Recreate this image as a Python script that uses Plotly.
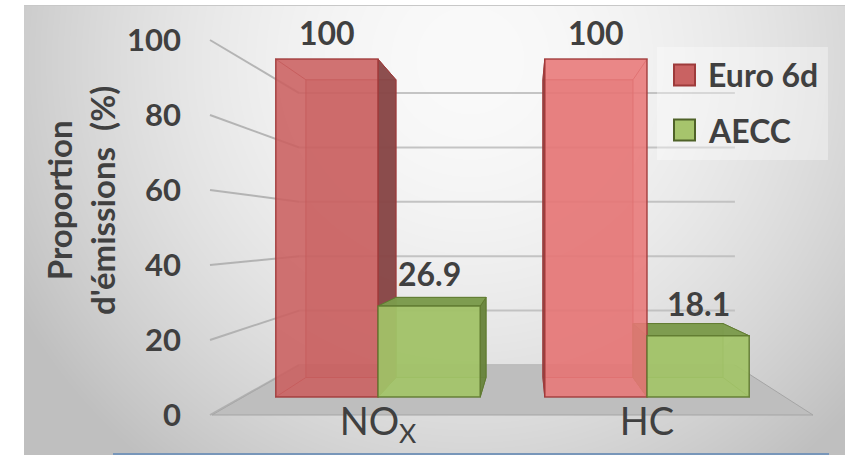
import base64
import struct
import zlib

import numpy as np
import plotly.graph_objects as go

# ---------------------------------------------------------------- data
categories = ["NO<sub>X</sub>", "HC"]
series_names = ["Euro 6d", "AECC"]
euro6d = [100, 100]
aecc = [26.9, 18.1]
y_ticks = [0, 20, 40, 60, 80, 100]
y_title = "Proportion<br>d'émissions  (%)"

# ---------------------------------------------------------------- geometry
W, H = 845, 455
FONT = "Lato"
TEXT = "#404040"

# perspective: vanishing point and depth factors of the planes
VP_X, VP_Y = 529.0, 233.0
REF_Y0, REF_K = 415.0, 3.75          # reference (tick) plane: px of value 0, px per unit
S_FRONT = 0.901                      # bar front faces
S_BACK = S_FRONT * 0.881             # bar back faces
S_WALL = 0.725                       # back wall / floor back edge

# category axis: centre pixel of first category and pixels per category
CAT0_PX, CAT_PX = 378.0, 269.0
BAR_W = 0.38
x_range = [-CAT0_PX / CAT_PX, (W - CAT0_PX) / CAT_PX]


def ref_y(v):
    return REF_Y0 - REF_K * v


def depth(x, y, s):
    return VP_X + (x - VP_X) * s, VP_Y + (y - VP_Y) * s


def front_y(v):
    return depth(0, ref_y(v), S_FRONT)[1]


def cat_px(c):
    return (c - x_range[0]) / (x_range[1] - x_range[0]) * W


def px(x, y):
    return x / W, 1 - y / H


def path(points):
    pts = [px(x, y) for x, y in points]
    return "M " + " L ".join(f"{a:.5f},{b:.5f}" for a, b in pts) + " Z"


# bar axis range so that values land on the front plane
b0 = front_y(0)
k_front = REF_K * S_FRONT
bar_range = [-(H - b0) / k_front, b0 / k_front]
tick_range = [-(H - REF_Y0) / REF_K, REF_Y0 / REF_K]

# ---------------------------------------------------------------- background
IMG_X0, IMG_Y0 = 24, 5
iw, ih = W - IMG_X0, H - IMG_Y0
gx, gy = np.meshgrid(np.arange(iw) + IMG_X0, np.arange(ih) + IMG_Y0)
d = np.sqrt(((gx - 470) / 430.0) ** 2 + ((gy - 60) / 430.0) ** 2)
shade = 250 - 42 * np.minimum(d, 1.2) ** 1.8
img = np.clip(shade, 0, 255).astype(np.uint8)
img[0, :] = 200


def png_bytes(a):
    h, w = a.shape
    raw = b"".join(b"\x00" + a[r].tobytes() for r in range(h))

    def chunk(tag, data):
        c = struct.pack(">I", len(data)) + tag + data
        return c + struct.pack(">I", zlib.crc32(tag + data) & 0xFFFFFFFF)

    return (b"\x89PNG\r\n\x1a\n"
            + chunk(b"IHDR", struct.pack(">IIBBBBB", w, h, 8, 0, 0, 0, 0))
            + chunk(b"IDAT", zlib.compress(raw, 9))
            + chunk(b"IEND", b""))


bg_src = "data:image/png;base64," + base64.b64encode(png_bytes(img)).decode()

shapes = []

# ---------------------------------------------------------------- floor & walls
FLOOR_L, FLOOR_R = 212.0, 813.0
fl_front = ref_y(0)
bl = depth(FLOOR_L, fl_front, S_WALL)
br = depth(FLOOR_R, fl_front, S_WALL)
shapes.append(dict(type="path", xref="paper", yref="paper", layer="below",
                   path=path([(FLOOR_L, fl_front), (FLOOR_R, fl_front), br, bl]),
                   fillcolor="rgb(190,190,190)", line=dict(color="rgb(165,165,165)", width=1)))

WALL_LEFT_X = 210.0
for v in y_ticks:
    p_ref = (WALL_LEFT_X, ref_y(v))
    p_back = depth(FLOOR_L, ref_y(v), S_WALL)
    # side wall line
    shapes.append(dict(type="line", xref="paper", yref="paper", layer="below",
                       x0=px(*p_ref)[0], y0=px(*p_ref)[1], x1=px(*p_back)[0], y1=px(*p_back)[1],
                       line=dict(color="rgba(170,170,170,0.85)", width=2)))
    # back wall gridline
    p_end = depth(FLOOR_R, ref_y(v), S_WALL)
    shapes.append(dict(type="line", xref="paper", yref="paper", layer="below",
                       x0=px(*p_back)[0], y0=px(*p_back)[1], x1=px(*p_end)[0], y1=px(*p_back)[1],
                       line=dict(color="rgba(190,190,190,0.9)", width=2)))

# ---------------------------------------------------------------- 3D bar bodies
styles = [
    dict(front=["rgba(203,96,96,0.88)", "rgba(232,120,120,0.88)"], edge="rgba(160,58,58,0.9)",
         side="rgba(135,70,70,0.95)", top="rgba(150,75,75,0.95)", back="rgba(160,60,60,0.30)"),
    dict(front=["rgba(163,196,104,0.93)", "rgba(163,196,104,0.93)"], edge="rgba(95,122,48,0.9)",
         side="rgba(104,132,60,0.95)", top="rgba(124,155,76,0.97)", back="rgba(100,130,55,0.30)"),
]
offsets = [-BAR_W, 0.0]
series = [euro6d, aecc]
top_visible = {}

order = [(c, s) for c in range(len(categories)) for s in range(len(series))]
for c, s in order:
    v = series[s][c]
    st = styles[s]
    xl, xr = cat_px(c + offsets[s]), cat_px(c + offsets[s] + BAR_W)
    yt, yb = front_y(v), front_y(0)
    r = S_BACK / S_FRONT
    bxl, byt = depth(xl, yt, r)
    bxr, byb = depth(xr, yb, r)
    top_visible[(c, s)] = yt > VP_Y

    shapes.append(dict(type="path", xref="paper", yref="paper", layer="below",
                       path=path([(bxl, byt), (bxr, byt), (bxr, byb), (bxl, byb)]),
                       fillcolor=st["back"], line=dict(color=st["edge"], width=1)))
    for (fx, fy), (qx, qy) in [((xl, yt), (bxl, byt)), ((xr, yt), (bxr, byt)),
                               ((xl, yb), (bxl, byb)), ((xr, yb), (bxr, byb))]:
        a, b = px(fx, fy)
        a2, b2 = px(qx, qy)
        shapes.append(dict(type="line", xref="paper", yref="paper", layer="below",
                           x0=a, y0=b, x1=a2, y1=b2, line=dict(color=st["edge"], width=1)))
    if xr < VP_X:
        shapes.append(dict(type="path", xref="paper", yref="paper", layer="below",
                           path=path([(xr, yt), (bxr, byt), (bxr, byb), (xr, yb)]),
                           fillcolor=st["side"], line=dict(color=st["edge"], width=1)))
    if xl > VP_X:
        shapes.append(dict(type="path", xref="paper", yref="paper", layer="below",
                           path=path([(xl, yt), (bxl, byt), (bxl, byb), (xl, yb)]),
                           fillcolor=st["side"], line=dict(color=st["edge"], width=1)))
    if yt > VP_Y:
        shapes.append(dict(type="path", xref="paper", yref="paper", layer="below",
                           path=path([(xl, yt), (xr, yt), (bxr, byt), (bxl, byt)]),
                           fillcolor=st["top"], line=dict(color=st["edge"], width=1)))

# ---------------------------------------------------------------- front faces
fig = go.Figure()
for s, name in enumerate(series_names):
    fig.add_trace(go.Bar(
        x=categories, y=series[s], name=name, width=BAR_W, offset=offsets[s],
        marker=dict(color=styles[s]["front"], line=dict(color=styles[s]["edge"], width=1.5)),
        yaxis="y", showlegend=False, hoverinfo="skip",
    ))

# empty trace that carries the value-axis ticks
fig.add_trace(go.Scatter(x=categories[:1], y=y_ticks[:1], yaxis="y2", mode="none",
                         showlegend=False, hoverinfo="skip"))

# value labels
annotations = []
for c, s in order:
    v = series[s][c]
    annotations.append(dict(
        x=c + offsets[s] + BAR_W / 2, y=v, xref="x", yref="y", text=f"{v:g}",
        showarrow=False, xanchor="center", yanchor="bottom",
        yshift=5 + (6 if top_visible[(c, s)] else 0),
        font=dict(family=FONT, size=32, color=TEXT, weight="bold"),
    ))

# axis title
annotations.append(dict(
    x=80 / W, y=1 - 201 / H, xref="paper", yref="paper", text=y_title, textangle=-90,
    showarrow=False, xanchor="center", yanchor="middle",
    font=dict(family=FONT, size=33, color=TEXT, weight="bold"),
))

# legend
LEG_X, LEG_SQ = 674, 21
leg_rows = [75, 130]
shapes.append(dict(type="rect", xref="paper", yref="paper", layer="below",
                   x0=657 / W, x1=828 / W, y0=1 - 160 / H, y1=1 - 47 / H,
                   fillcolor="rgba(255,255,255,0.35)", line=dict(width=0)))
leg_fill = ["rgb(201,98,98)", "rgb(166,196,108)"]
leg_line = ["rgb(158,59,59)", "rgb(79,98,40)"]
for i, name in enumerate(series_names):
    yc = leg_rows[i]
    shapes.append(dict(type="rect", xref="paper", yref="paper", layer="above",
                       x0=LEG_X / W, x1=(LEG_X + LEG_SQ) / W,
                       y0=1 - (yc + LEG_SQ / 2) / H, y1=1 - (yc - LEG_SQ / 2) / H,
                       fillcolor=leg_fill[i], line=dict(color=leg_line[i], width=2)))
    annotations.append(dict(
        x=706 / W, y=1 - yc / H, xref="paper", yref="paper", text=name,
        xanchor="left", yanchor="middle",
        showarrow=False, font=dict(family=FONT, size=32, color=TEXT, weight="bold"),
    ))

# bottom accent line
shapes.append(dict(type="line", xref="paper", yref="paper", layer="above",
                   x0=113 / W, x1=829 / W, y0=1 - 454 / H, y1=1 - 454 / H,
                   line=dict(color="rgb(120,150,185)", width=2)))

fig.update_layout(
    width=W, height=H, margin=dict(l=0, r=0, t=0, b=0, pad=0),
    paper_bgcolor="white", plot_bgcolor="rgba(0,0,0,0)",
    barmode="overlay", showlegend=False,
    images=[dict(source=bg_src, xref="paper", yref="paper", x=IMG_X0 / W, y=1 - IMG_Y0 / H,
                 sizex=iw / W, sizey=ih / H, xanchor="left", yanchor="top",
                 sizing="stretch", layer="below")],
    xaxis=dict(domain=[0, 1], range=x_range, type="category", anchor="free",
               position=(H - 396) / H, showgrid=False, zeroline=False, showline=False,
               ticks="", tickfont=dict(family=FONT, size=38, color=TEXT)),
    yaxis=dict(domain=[0, 1], range=bar_range, visible=False, fixedrange=True),
    yaxis2=dict(overlaying="y", anchor="free", position=181 / W, side="left",
                range=tick_range, tickvals=y_ticks, showgrid=False, zeroline=False,
                showline=False, ticks="",
                tickfont=dict(family=FONT, size=31, color=TEXT, weight="bold")),
    shapes=shapes, annotations=annotations,
)

fig.write_html("out.html")
